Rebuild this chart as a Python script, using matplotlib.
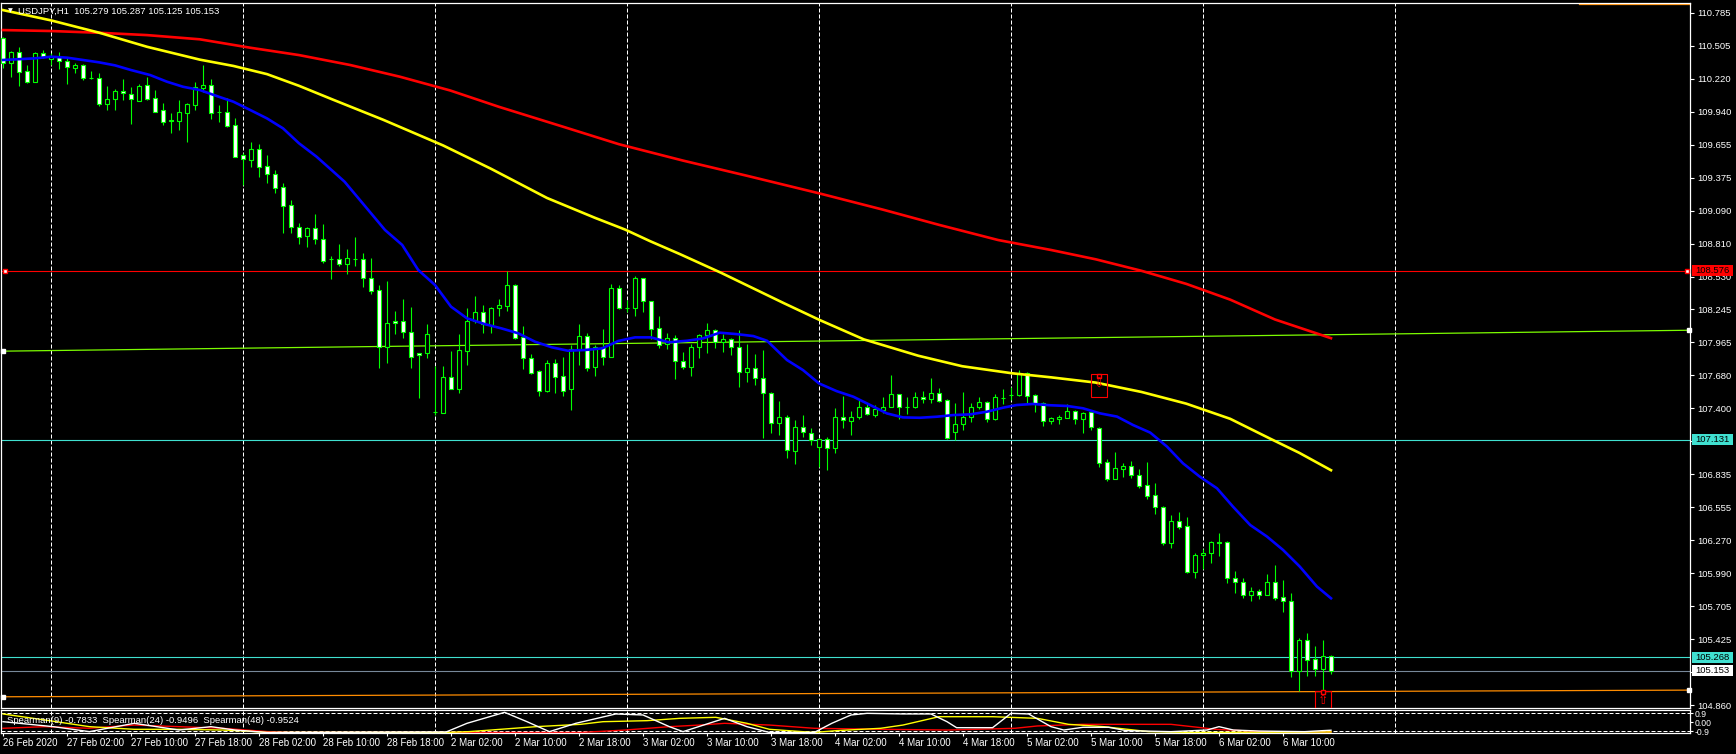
"""USDJPY H1 chart (MT4 style) with moving averages and a Spearman sub-window."""
import matplotlib

matplotlib.use("Agg")
import matplotlib.pyplot as plt
import matplotlib.transforms as mtransforms
import numpy as np
from matplotlib.patches import Rectangle

plt.rcParams["font.family"] = ["Liberation Sans", "DejaVu Sans"]

# ---------------------------------------------------------------- data
symbol_title = "USDJPY,H1  105.279 105.287 105.125 105.153"
spearman_title = "Spearman(9) -0.7833  Spearman(24) -0.9496  Spearman(48) -0.9524"

# bar 0 = 26 Feb 2020 18:00, one bar per hour (weekend skipped)
opens = [
    110.566, 110.358, 110.446, 110.284, 110.195, 110.438, 110.392, 110.409, 110.375, 110.315,
    110.335, 110.230, 110.224, 110.001, 110.044, 110.113, 110.087, 110.033, 110.164, 110.053,
    109.953, 109.864, 109.862, 109.930, 109.996, 110.144, 110.164, 109.933, 109.933, 109.822,
    109.568, 109.525, 109.616, 109.474, 109.405, 109.291, 109.137, 108.949, 108.877, 108.940,
    108.846, 108.675, 108.678, 108.632, 108.681, 108.675, 108.512, 108.410, 107.922, 108.144,
    108.144, 108.050, 107.871, 107.871, 107.371, 107.363, 107.668, 107.562, 107.893, 108.147,
    108.221, 108.116, 108.256, 108.278, 108.452, 108.007, 107.828, 107.716, 107.551, 107.785,
    107.674, 107.562, 107.905, 108.016, 107.751, 107.922, 107.842, 108.427, 108.261, 108.256,
    108.512, 108.316, 108.084, 107.948, 107.999, 107.801, 107.750, 107.921, 108.024, 108.067,
    107.964, 107.990, 107.921, 107.713, 107.741, 107.656, 107.527, 107.276, 107.328, 107.037,
    107.242, 107.191, 107.071, 107.134, 107.057, 107.328, 107.293, 107.328, 107.408, 107.345,
    107.388, 107.408, 107.519, 107.408, 107.408, 107.493, 107.476, 107.527, 107.470, 107.199,
    107.262, 107.328, 107.413, 107.450, 107.305, 107.490, 107.513, 107.514, 107.705, 107.511,
    107.443, 107.294, 107.306, 107.320, 107.377, 107.311, 107.366, 107.229, 106.938, 106.798,
    106.884, 106.904, 106.827, 106.741, 106.655, 106.558, 106.250, 106.436, 106.393, 106.002,
    106.142, 106.159, 106.253, 106.253, 105.945, 105.911, 105.800, 105.837, 105.805, 105.914,
    105.782, 105.751, 105.155, 105.417, 105.252, 105.169, 105.279,
]
highs = [
    110.575, 110.458, 110.489, 110.335, 110.452, 110.466, 110.443, 110.446, 110.395, 110.358,
    110.344, 110.287, 110.267, 110.158, 110.130, 110.215, 110.152, 110.172, 110.232, 110.124,
    110.010, 109.924, 110.038, 110.010, 110.192, 110.338, 110.215, 109.996, 110.053, 109.881,
    109.582, 109.679, 109.659, 109.568, 109.439, 109.325, 109.183, 108.983, 108.949, 109.063,
    108.977, 108.703, 108.806, 108.763, 108.863, 108.726, 108.684, 108.455, 108.490, 108.233,
    108.336, 108.267, 107.871, 108.122, 107.765, 107.765, 107.890, 108.036, 108.256, 108.361,
    108.284, 108.270, 108.333, 108.575, 108.464, 108.104, 107.862, 107.728, 107.813, 107.819,
    107.842, 107.942, 108.122, 108.042, 107.942, 108.079, 108.464, 108.455, 108.327, 108.532,
    108.518, 108.321, 108.190, 108.042, 108.027, 107.878, 107.947, 108.035, 108.126, 108.075,
    108.035, 107.998, 108.069, 107.950, 107.861, 107.898, 107.542, 107.462, 107.342, 107.299,
    107.342, 107.228, 107.142, 107.151, 107.399, 107.505, 107.376, 107.470, 107.436, 107.428,
    107.493, 107.684, 107.522, 107.493, 107.542, 107.550, 107.656, 107.570, 107.479, 107.442,
    107.536, 107.442, 107.493, 107.462, 107.522, 107.562, 107.579, 107.728, 107.714, 107.520,
    107.454, 107.329, 107.343, 107.437, 107.386, 107.371, 107.380, 107.243, 106.963, 107.026,
    106.929, 106.949, 106.881, 106.941, 106.758, 106.564, 106.487, 106.513, 106.470, 106.165,
    106.193, 106.265, 106.333, 106.262, 106.008, 105.948, 105.868, 105.854, 105.982, 106.059,
    105.931, 105.820, 105.432, 105.474, 105.366, 105.417, 105.287,
]
lows = [
    110.315, 110.238, 110.161, 110.181, 110.195, 110.395, 110.338, 110.304, 110.175, 110.267,
    110.210, 110.215, 109.987, 109.953, 109.953, 110.038, 109.833, 110.033, 110.038, 109.939,
    109.824, 109.759, 109.782, 109.682, 109.953, 110.110, 109.879, 109.853, 109.804, 109.553,
    109.311, 109.468, 109.382, 109.331, 109.245, 108.903, 108.903, 108.803, 108.783, 108.803,
    108.646, 108.504, 108.618, 108.547, 108.621, 108.441, 108.375, 107.742, 107.791, 108.036,
    108.005, 107.748, 107.491, 107.833, 107.343, 107.357, 107.562, 107.528, 107.771, 108.133,
    108.047, 108.047, 108.190, 108.236, 107.993, 107.734, 107.691, 107.508, 107.542, 107.528,
    107.508, 107.386, 107.773, 107.722, 107.679, 107.771, 107.842, 108.250, 108.227, 108.193,
    108.227, 107.990, 107.919, 107.905, 107.648, 107.736, 107.676, 107.827, 107.875, 107.913,
    107.884, 107.855, 107.585, 107.627, 107.599, 107.142, 107.185, 107.171, 106.971, 106.920,
    107.157, 107.085, 106.900, 106.871, 107.020, 107.228, 107.171, 107.305, 107.342, 107.328,
    107.362, 107.408, 107.311, 107.351, 107.399, 107.448, 107.442, 107.456, 107.134, 107.128,
    107.214, 107.285, 107.390, 107.285, 107.299, 107.436, 107.470, 107.505, 107.448, 107.371,
    107.252, 107.263, 107.263, 107.320, 107.263, 107.186, 107.215, 106.901, 106.781, 106.798,
    106.809, 106.801, 106.715, 106.627, 106.496, 106.230, 106.208, 106.364, 105.994, 105.951,
    106.022, 106.073, 106.139, 105.902, 105.817, 105.774, 105.748, 105.765, 105.800, 105.760,
    105.654, 105.104, 104.984, 105.112, 105.112, 104.975, 105.125,
]
closes = [
    110.358, 110.446, 110.281, 110.195, 110.438, 110.409, 110.415, 110.375, 110.318, 110.335,
    110.230, 110.224, 110.001, 110.044, 110.115, 110.095, 110.044, 110.158, 110.050, 109.939,
    109.853, 109.859, 109.933, 110.001, 110.152, 110.164, 109.930, 109.933, 109.816, 109.553,
    109.531, 109.616, 109.468, 109.402, 109.288, 109.134, 108.949, 108.869, 108.940, 108.846,
    108.663, 108.675, 108.632, 108.684, 108.678, 108.512, 108.407, 107.922, 108.127, 108.127,
    108.050, 107.842, 107.853, 108.033, 107.368, 107.668, 107.562, 107.899, 108.147, 108.221,
    108.119, 108.256, 108.281, 108.452, 108.005, 107.828, 107.705, 107.551, 107.785, 107.671,
    107.551, 107.905, 108.016, 107.742, 107.922, 107.842, 108.427, 108.256, 108.258, 108.512,
    108.316, 108.076, 107.939, 107.999, 107.802, 107.750, 107.921, 108.024, 108.067, 107.964,
    107.990, 107.921, 107.713, 107.741, 107.656, 107.527, 107.276, 107.328, 107.042, 107.236,
    107.194, 107.128, 107.134, 107.057, 107.328, 107.296, 107.328, 107.408, 107.348, 107.390,
    107.408, 107.519, 107.408, 107.408, 107.493, 107.476, 107.527, 107.465, 107.142, 107.262,
    107.328, 107.413, 107.450, 107.311, 107.493, 107.487, 107.510, 107.699, 107.508, 107.443,
    107.294, 107.314, 107.323, 107.377, 107.311, 107.360, 107.237, 106.935, 106.792, 106.886,
    106.904, 106.827, 106.738, 106.653, 106.553, 106.250, 106.436, 106.387, 106.002, 106.145,
    106.162, 106.256, 106.250, 105.945, 105.911, 105.800, 105.837, 105.805, 105.914, 105.780,
    105.748, 105.155, 105.417, 105.246, 105.172, 105.280, 105.153,
]

# moving averages (bar position, price)
blue_ma_bars = [0, 4, 6, 8, 10, 12, 14, 16, 18.4, 20.5, 22.5, 24.6, 26.7, 28.8, 30.9, 33, 35, 37,
                39.2, 41.3, 42.7, 47.75, 49.9, 51.9, 54, 56, 58, 60.3, 62.3, 64.4, 66.5, 68.6,
                70.6, 72.75, 74.9, 76.9, 79, 81, 83.2, 85.5, 87.5, 89.6, 91.7, 93.8, 95.5, 98,
                100, 102, 104.2, 106.3, 108.4, 110.5, 112.5, 114.6, 116.75, 118.75, 120.9, 123,
                125, 126.7, 128.75, 130.9, 133, 135, 137.1, 139.25, 141.25, 143.4, 145.5, 147.5,
                149.6, 151.75, 153.75, 155.9, 158, 160, 162.1, 164.25, 166]
blue_ma = [110.381, 110.395, 110.409, 110.401, 110.381, 110.361, 110.335, 110.295, 110.252,
           110.195, 110.152, 110.124, 110.073, 110.024, 109.953, 109.881, 109.796, 109.668,
           109.553, 109.425, 109.339, 108.926, 108.798, 108.584, 108.455, 108.270, 108.170,
           108.119, 108.084, 108.042, 107.970, 107.922, 107.893, 107.899, 107.913, 107.976,
           108.007, 108.007, 107.965, 107.978, 107.998, 108.047, 108.035, 108.018, 107.978,
           107.813, 107.727, 107.613, 107.547, 107.499, 107.428, 107.356, 107.322, 107.319,
           107.328, 107.342, 107.348, 107.371, 107.405, 107.428, 107.437, 107.426, 107.420,
           107.400, 107.357, 107.329, 107.257, 107.192, 107.072, 106.929, 106.815, 106.715,
           106.558, 106.401, 106.302, 106.188, 106.045, 105.874, 105.774]

yellow_ma_bars = [0, 6, 12, 18, 24.6, 28.8, 33, 37, 41.3, 47.5, 55, 61, 68, 74, 77.75,
                  80.9, 84.6, 89.75, 97.6, 102.1, 107.6, 114.4, 119.9, 126.1, 131, 136.6, 142.3,
                  147.9, 153.4, 158.4, 162, 166]
yellow_ma = [110.808, 110.720, 110.615, 110.494, 110.384, 110.330, 110.260, 110.160, 110.040,
             109.870, 109.650, 109.450, 109.200, 109.030, 108.930, 108.830, 108.720, 108.560,
             108.300, 108.155, 107.990, 107.850, 107.760, 107.700, 107.665, 107.620, 107.540,
             107.440, 107.310, 107.140, 107.020, 106.870]

red_ma_bars = [0, 6, 12, 18, 24.6, 30.9, 37, 43.4, 49.6, 55.9, 62, 70, 77, 85, 93, 102, 110,
               117, 124.4, 131, 136.6, 142.3, 147.9, 153.4, 159, 166]
red_ma = [110.637, 110.629, 110.614, 110.594, 110.558, 110.486, 110.423, 110.338, 110.238,
          110.120, 109.980, 109.810, 109.660, 109.520, 109.390, 109.240, 109.100, 108.970,
          108.840, 108.755, 108.675, 108.577, 108.465, 108.330, 108.160, 108.000]

# Spearman rank correlation lines (bar, value)
sp9_bars = [0, 6.3, 10.8, 16.4, 22, 26, 29, 33, 55.4, 58, 62.7, 65.5, 68.3, 71.6, 76.6, 80,
            83.3, 85, 90.2, 93, 95.8, 101.4, 103.6, 106, 108, 112.5, 116, 118, 119.2, 123.7,
            126, 128.2, 131, 132.6, 135, 138.2, 140.4, 146, 150.5, 152, 153.8, 157, 162.7, 165, 166]
sp9 = [0.06, -0.43, -0.92, -0.10, -0.76, -0.43, -0.76, -1.0, -0.95, -0.10, 0.98, 0.06, -0.92,
       -0.10, 0.82, 0.72, -0.43, -0.92, 0.39, -0.43, -1.0, -1.0, -0.10, 0.72, 0.88, 0.82, 0.82,
       0.06, -0.53, -0.53, 0.88, 0.82, -0.43, -0.76, -0.49, -0.49, -0.82, -0.92, -0.76, -0.43,
       -0.76, -0.86, -0.92, -0.82, -0.78]
sp24_bars = [0, 5.2, 10.8, 16.4, 22, 27.5, 30.3, 33, 55.4, 58.2, 61, 66.6, 72.2, 75, 80.5, 84.6,
             89.1, 93, 95.8, 101.4, 104.2, 109.7, 112.5, 117, 123.7, 129.3, 133.2, 137.6, 143.2,
             148.8, 166]
sp24 = [0.82, 0.23, -0.43, -0.69, -0.69, -0.76, -0.86, -1.0, -1.0, -0.92, -0.76, -0.43, -0.2,
        0.06, 0.16, 0.39, 0.49, -0.10, -0.69, -1.0, -0.82, -0.59, -0.27, 0.55, 0.55, 0.39, -0.2,
        -0.43, -0.92, -1.0, -0.95]
sp48_bars = [0, 5.2, 10.8, 16.4, 22, 27.5, 33.1, 35.9, 72.2, 77.8, 83.3, 87.1, 90.2, 95.8, 101.4,
             109.7, 118.1, 126.5, 129.3, 134.8, 146, 151.6, 157.2, 166]
sp48 = [-0.59, -0.43, -0.59, -0.27, -0.43, -0.59, -0.92, -1.0, -1.0, -0.76, -0.43, -0.27, -0.10,
        -0.27, -0.59, -0.69, -0.76, -0.59, -0.36, -0.20, -0.20, -0.69, -0.92, -0.95]

# horizontal levels and trend lines
red_level = 108.576
cyan_levels = [107.131, 105.268]
bid_price = 105.153
green_trend_bars = [0, 210.8]
green_trend_prices = [107.889, 108.068]
orange_trend_bars = [0, 210.8]
orange_trend_prices = [104.931, 104.988]
orange_top_bars = [197, 210.9]
orange_top_prices = [110.857, 110.857]

# arrow objects: (bar, anchor price)
sell_arrow = (137, 107.679)
buy_arrow = (165, 104.971)

# axis labels
price_tick_labels = ["110.785", "110.505", "110.220", "109.940", "109.655", "109.375", "109.090",
                     "108.810", "108.530", "108.245", "107.965", "107.680", "107.400", "107.115",
                     "106.835", "106.555", "106.270", "105.990", "105.705", "105.425", "105.140",
                     "104.860"]
time_tick_bars = [0, 8, 16, 24, 32, 40, 48, 56, 64, 72, 80, 88, 96, 104, 112, 120, 128, 136,
                  144, 152, 160]
time_tick_labels = ["26 Feb 2020", "27 Feb 02:00", "27 Feb 10:00", "27 Feb 18:00",
                    "28 Feb 02:00", "28 Feb 10:00", "28 Feb 18:00", "2 Mar 02:00", "2 Mar 10:00",
                    "2 Mar 18:00", "3 Mar 02:00", "3 Mar 10:00", "3 Mar 18:00", "4 Mar 02:00",
                    "4 Mar 10:00", "4 Mar 18:00", "5 Mar 02:00", "5 Mar 10:00", "5 Mar 18:00",
                    "6 Mar 02:00", "6 Mar 10:00"]
day_start_bars = [6, 30, 54, 78, 102, 126, 150, 174]

# ---------------------------------------------------------------- layout
W, H = 1736, 754
LIME = "#00ff00"
FS = 6.8
DASH = (0, (4, 2))


def px_box(left, top, right, bottom):
    return [left / W, 1 - bottom / H, (right - left) / W, (bottom - top) / H]


fig = plt.figure(figsize=(W / 100, H / 100), dpi=100, facecolor="black")
ax = fig.add_axes(px_box(1, 2.5, 1690, 708), facecolor="black")
sub = fig.add_axes(px_box(1, 710, 1690, 733.3), facecolor="black", sharex=ax)

ax.set_xlim(-0.25, 210.875)
ax.set_ylim(104.835, 110.873)
sub.set_ylim(-1.082, 1.209)

for a in (ax, sub):
    for s in a.spines.values():
        s.set_color("white")
        s.set_linewidth(0.9)
    for d in day_start_bars:
        a.axvline(d, color="white", lw=0.72, ls=DASH, zorder=0.5)

# ---------------------------------------------------------------- main window
bars = np.arange(len(opens))
o = np.array(opens)
c = np.array(closes)
ax.vlines(bars, lows, highs, color=LIME, lw=0.8, zorder=2)
body_low = np.minimum(o, c)
body_h = np.abs(c - o)
faces = ["white" if cc < oo else "black" for oo, cc in zip(o, c)]
ax.bar(bars, body_h, bottom=body_low, width=0.5, color=faces, edgecolor=LIME,
       linewidth=0.8, zorder=3)

ax.plot(red_ma_bars, red_ma, color="#ff0000", lw=1.9, zorder=4)
ax.plot(yellow_ma_bars, yellow_ma, color="#ffff00", lw=1.9, zorder=4)
ax.plot(blue_ma_bars, blue_ma, color="#0000ff", lw=1.9, zorder=4)

ax.axhline(red_level, color="#ff0000", lw=0.8, zorder=1)
for lv in cyan_levels:
    ax.axhline(lv, color="#40e0d0", lw=0.8, zorder=1)
ax.axhline(bid_price, color="#778899", lw=0.8, zorder=1)
ax.axline((green_trend_bars[0], green_trend_prices[0]), (green_trend_bars[1], green_trend_prices[1]),
          color="#7cfc00", lw=0.9, zorder=1)
ax.axline((orange_trend_bars[0], orange_trend_prices[0]),
          (orange_trend_bars[1], orange_trend_prices[1]), color="#ff8c00", lw=0.9, zorder=1)
ax.plot(orange_top_bars, orange_top_prices, color="#ff8c00", lw=0.9, zorder=1, clip_on=False)

# anchor squares of the selected objects
anchor_style = dict(marker="s", ms=3.2, mfc="white", ls="none", clip_on=False, zorder=5)
ax.plot([0.3, 210.5], [red_level, red_level], mec="#ff0000", **anchor_style)
ax.plot([green_trend_bars[0], green_trend_bars[1]], green_trend_prices, mec="white", **anchor_style)
ax.plot([orange_trend_bars[0], orange_trend_bars[1]], orange_trend_prices, mec="white",
        **anchor_style)

# arrow objects with their selection frames
px_price = 1 / 116.85  # one pixel in price units
for (b, p), glyph, top_off, bot_off in ((sell_arrow, "\u21e9", 1.5, 21), (buy_arrow, "\u21e7", 1.5, 16)):
    ax.add_patch(Rectangle((b - 1.06, p - bot_off * px_price), 2.12, (top_off + bot_off) * px_price,
                           fill=False, ec="#ff0000", lw=0.8, zorder=6))
    ax.plot(b, p, marker="s", ms=3.2, mfc="black", mec="#ff0000", zorder=7)
    ax.text(b, p - 2 * px_price, glyph, color="#ff0000", fontsize=9, ha="center", va="top",
            family="DejaVu Sans", zorder=7)

# price scale on the right
ax.yaxis.tick_right()
ax.set_yticks(np.linspace(110.785, 104.860, len(price_tick_labels)))
ax.set_yticklabels(price_tick_labels)
ax.tick_params(axis="y", colors="white", labelsize=FS, length=3, width=0.8, pad=2)
ax.tick_params(axis="x", bottom=False, labelbottom=False)

# coloured price tags
ytrans = mtransforms.blended_transform_factory(ax.transAxes, ax.transData)
tags = [(red_level, "#ff0000", "black"), (cyan_levels[0], "#40e0d0", "black"),
        (cyan_levels[1], "#40e0d0", "black"), (bid_price, "white", "black")]
for p, bg, fg in tags:
    ax.add_patch(Rectangle((1.0012, p - 5.5 * px_price), 0.0243, 11 * px_price, transform=ytrans,
                           fc=bg, ec="none", clip_on=False, zorder=8))
    ax.text(1.0133, p, f"{p:.3f}", transform=ytrans, color=fg, fontsize=FS, ha="center",
            va="center", clip_on=False, zorder=9)

fig.text(8 / W, 1 - 11 / H, "\u25bc", color="white", fontsize=4.5, ha="left", va="center",
         family="DejaVu Sans")
fig.text(18 / W, 1 - 11 / H, symbol_title, color="white", fontsize=FS, ha="left", va="center")

# ---------------------------------------------------------------- sub window
sub.axhline(0.9, color="white", lw=0.72, ls=DASH)
sub.axhline(-0.9, color="white", lw=0.72, ls=DASH)
sub.plot(sp48_bars, sp48, color="#ff0000", lw=1.0)
sub.plot(sp24_bars, sp24, color="#ffff00", lw=1.0)
sub.plot(sp9_bars, sp9, color="white", lw=1.0)
sub.text(6 / 1689, 0.55, spearman_title, transform=sub.transAxes, color="white", fontsize=FS,
         ha="left", va="center", zorder=5)

sub.yaxis.tick_right()
sub.set_yticks([0.9, 0.0, -0.9])
sub.set_yticklabels(["0.9", "0.00", "-0.9"])
sub.tick_params(axis="y", colors="white", labelsize=6.2, length=2, width=0.8, pad=1)

sub.set_xticks(time_tick_bars)
sub.set_xticklabels(time_tick_labels, ha="left")
sub.tick_params(axis="x", colors="white", labelsize=7.0, length=2, width=0.8, pad=1.5)

fig.savefig("out.png", dpi=100, facecolor="black")
